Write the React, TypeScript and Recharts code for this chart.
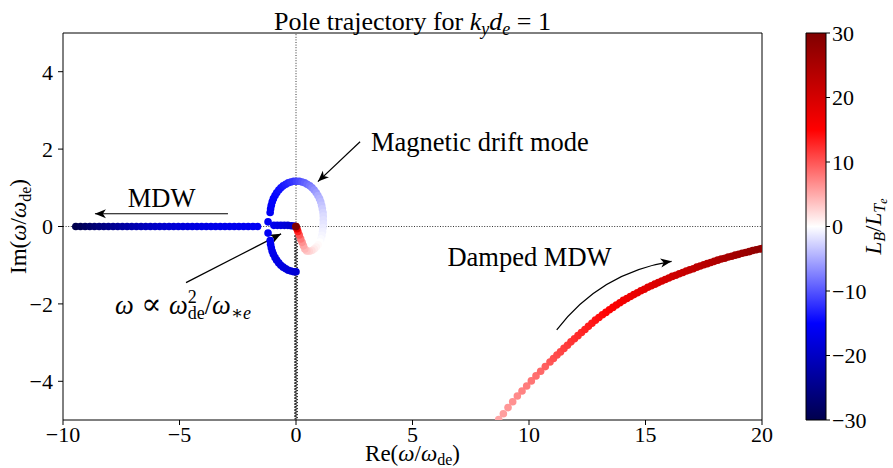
import React from "react";
import {
  ScatterChart,
  Scatter,
  XAxis,
  YAxis,
  ReferenceLine,
  ReferenceArea,
  ReferenceDot,
} from "recharts";

// each point: [Re(w/w_de), Im(w/w_de), L_B/L_Te]
type Pt = [number, number, number];

// MDW branch on the real axis (dense, dark navy -> blue)
const mdwBranch: Pt[] = [
  [-9.45, 0, -30], [-9.25, 0, -29.2], [-9.05, 0, -28.4], [-8.85, 0, -27.6], [-8.65, 0, -26.9],
  [-8.45, 0, -26.2], [-8.25, 0, -25.5], [-8.05, 0, -24.9], [-7.85, 0, -24.3], [-7.65, 0, -23.7],
  [-7.45, 0, -23.1], [-7.25, 0, -22.6], [-7.05, 0, -22.1], [-6.85, 0, -21.6], [-6.65, 0, -21.1],
  [-6.45, 0, -20.7], [-6.25, 0, -20.3], [-6.05, 0, -19.9], [-5.85, 0, -19.5], [-5.65, 0, -19.2],
  [-5.45, 0, -18.9], [-5.25, 0, -18.6], [-5.05, 0, -18.3], [-4.85, 0, -18.1], [-4.65, 0, -17.9],
  [-4.45, 0, -17.7], [-4.25, 0, -17.5], [-4.05, 0, -17.3], [-3.85, 0, -17.2], [-3.65, 0, -17.0],
  [-3.45, 0, -16.9], [-3.25, 0, -16.8], [-3.05, 0, -16.7], [-2.85, 0, -16.6], [-2.65, 0, -16.5],
  [-2.45, 0, -16.4], [-2.25, 0, -16.3], [-2.05, 0, -16.2], [-1.85, 0, -16.1], [-1.65, 0, -16.0],
];

// short branch w ~ w_de^2 / w_*e between -1 and 0
const smallBranch: Pt[] = [
  [-0.95, 0.03, -16.5], [-0.8, 0.03, -17], [-0.65, 0.03, -17.5], [-0.5, 0.03, -18],
  [-0.35, 0.03, -18.5], [-0.2, 0.02, -19], [-0.08, 0.01, -19.5],
];

// points where the branches split
const splitPoints: Pt[] = [
  [-1.2, 0.12, -15.8], [-1.2, -0.17, -15.8],
];

// lower arc (conjugate side)
const lowerArc: Pt[] = [
  [-1.11, -0.36, -15.8], [-1.09, -0.46, -16.0], [-1.06, -0.55, -16.2], [-1.02, -0.64, -16.4],
  [-0.97, -0.72, -16.6], [-0.9, -0.8, -16.8], [-0.83, -0.87, -17.0], [-0.74, -0.94, -17.2],
  [-0.65, -1.0, -17.4], [-0.55, -1.05, -17.6], [-0.44, -1.09, -17.8], [-0.33, -1.13, -18.0],
  [-0.22, -1.15, -18.2], [-0.1, -1.17, -18.4], [0.0, -1.17, -18.6],
];

// magnetic drift mode loop, ending at the origin
const driftMode: Pt[] = [
  [-1.11, 0.36, -15.9], [-1.09, 0.46, -15.7], [-1.06, 0.55, -15.5], [-1.02, 0.64, -15.3],
  [-0.97, 0.72, -15.1], [-0.9, 0.8, -14.9], [-0.83, 0.87, -14.6], [-0.74, 0.94, -14.3],
  [-0.65, 1.0, -14.0], [-0.55, 1.05, -13.6], [-0.44, 1.09, -13.2], [-0.33, 1.13, -12.8],
  [-0.22, 1.15, -12.3], [-0.1, 1.17, -11.8], [0.02, 1.17, -11.2], [0.14, 1.17, -10.6],
  [0.26, 1.15, -10.0], [0.37, 1.13, -9.4], [0.48, 1.09, -8.7], [0.59, 1.05, -8.0],
  [0.69, 1.0, -7.2], [0.78, 0.94, -6.5], [0.87, 0.87, -5.8], [0.94, 0.8, -5.0],
  [1.01, 0.72, -4.5], [1.06, 0.64, -4.0], [1.1, 0.55, -3.5], [1.13, 0.46, -3.0],
  [1.16, 0.36, -2.5], [1.17, 0.27, -2.1], [1.17, 0.17, -1.8], [1.17, 0.07, -1.5],
  [1.16, -0.03, -1.2], [1.14, -0.13, -0.9], [1.11, -0.23, -0.6], [1.07, -0.32, -0.3],
  [1.02, -0.4, 0.0], [0.95, -0.47, 0.3], [0.87, -0.53, 0.7], [0.78, -0.58, 1.2],
  [0.68, -0.62, 1.8], [0.57, -0.64, 2.5], [0.46, -0.63, 3.3], [0.38, -0.58, 4.2],
  [0.32, -0.5, 5.2], [0.26, -0.41, 6.5], [0.2, -0.32, 8.0], [0.14, -0.22, 10.0],
  [0.08, -0.13, 13.0], [0.04, -0.06, 18.0], [0.0, 0.0, 25.0], [0.0, 0.0, 30.0],
];

// damped MDW branch
const dampedMdw: Pt[] = [
  [8.7, -4.99, 5.3], [8.9, -4.84, 5.7], [9.1, -4.68, 6.1], [9.3, -4.53, 6.5], [9.5, -4.38, 6.9],
  [9.7, -4.25, 7.3], [9.9, -4.12, 7.7], [10.1, -3.99, 8.1], [10.3, -3.86, 8.5], [10.5, -3.74, 8.9],
  [10.7, -3.62, 9.4], [10.9, -3.5, 9.9], [11.05, -3.41, 10.3], [11.2, -3.32, 10.6], [11.35, -3.24, 10.9],
  [11.5, -3.15, 11.2], [11.65, -3.07, 11.5], [11.8, -2.98, 11.8], [11.95, -2.9, 12.1], [12.1, -2.82, 12.4],
  [12.25, -2.74, 12.7], [12.4, -2.66, 13.0], [12.55, -2.58, 13.3], [12.7, -2.5, 13.6], [12.85, -2.42, 13.9],
  [13.0, -2.35, 14.2], [13.15, -2.28, 14.5], [13.3, -2.22, 14.8], [13.45, -2.15, 15.1], [13.6, -2.09, 15.4],
  [13.75, -2.03, 15.7], [13.9, -1.97, 16.0], [14.05, -1.91, 16.3], [14.2, -1.86, 16.6], [14.35, -1.81, 16.9],
  [14.5, -1.76, 17.2], [14.65, -1.71, 17.5], [14.8, -1.66, 17.8], [14.95, -1.62, 18.1], [15.1, -1.57, 18.4],
  [15.25, -1.53, 18.7], [15.4, -1.49, 19.0], [15.55, -1.45, 19.3], [15.7, -1.41, 19.6], [15.85, -1.37, 19.9],
  [16.0, -1.33, 20.2], [16.15, -1.29, 20.5], [16.3, -1.26, 20.8], [16.45, -1.22, 21.1], [16.6, -1.19, 21.4],
  [16.75, -1.15, 21.7], [16.9, -1.12, 22.0], [17.05, -1.09, 22.3], [17.2, -1.05, 22.6], [17.35, -1.02, 22.9],
  [17.5, -0.99, 23.2], [17.65, -0.96, 23.5], [17.8, -0.93, 23.8], [17.95, -0.9, 24.1], [18.1, -0.87, 24.4],
  [18.25, -0.84, 24.7], [18.4, -0.82, 25.0], [18.55, -0.79, 25.3], [18.7, -0.77, 25.6], [18.85, -0.74, 25.9],
  [19.0, -0.72, 26.2], [19.15, -0.69, 26.5], [19.3, -0.67, 26.8], [19.45, -0.65, 27.1], [19.6, -0.62, 27.4],
  [19.75, -0.6, 27.7], [19.9, -0.58, 28.0], [20.0, -0.57, 28.2],
];

const xTicks = [-10, -5, 0, 5, 10, 15, 20];
const yTicks = [-4, -2, 0, 2, 4];
const cbarTicks = [-30, -20, -10, 0, 10, 20, 30];

const FONT = "'Liberation Serif', 'DejaVu Serif', serif";

// matplotlib "seismic" colormap over [-30, 30]
const seismicStops = [
  [0, 0, 0.3],
  [0, 0, 1],
  [1, 1, 1],
  [1, 0, 0],
  [0.5, 0, 0],
];
function seismic(v: number) {
  const t = Math.min(1, Math.max(0, (v + 30) / 60)) * 4;
  const i = Math.min(3, Math.floor(t));
  const f = t - i;
  const c = seismicStops[i].map((a, k) => a + (seismicStops[i + 1][k] - a) * f);
  return `rgb(${c.map((u) => Math.round(u * 255)).join(",")})`;
}

const rows = (pts: Pt[]) => pts.map(([x, y, c]) => ({ x, y, c }));
const fmt = (v: number) => (v < 0 ? `\u2212${-v}` : `${v}`);

const PoleDot = (p: any) => (
  <circle cx={p.cx} cy={p.cy} r={3.8} fill={seismic(p.payload.c)} />
);

// arrow drawn between the two segment ends; curve > 0 bends it
const arrow = (curve = 0) => (p: any) => {
  const { x1, y1, x2, y2 } = p;
  const dx = x2 - x1;
  const dy = y2 - y1;
  let d = `M${x1},${y1} L${x2},${y2}`;
  let ux = dx;
  let uy = dy;
  if (curve) {
    const cx = (x1 + x2) / 2 + curve * dy;
    const cy = (y1 + y2) / 2 - curve * dx;
    d = `M${x1},${y1} Q${cx},${cy} ${x2},${y2}`;
    ux = x2 - cx;
    uy = y2 - cy;
  }
  const l = Math.hypot(ux, uy);
  ux /= l;
  uy /= l;
  const L = 11;
  const W = 4.5;
  const bx = x2 - ux * L;
  const by = y2 - uy * L;
  const nx = x2 - ux * (L - 3);
  const ny = y2 - uy * (L - 3);
  const head = `M${x2},${y2} L${bx - uy * W},${by + ux * W} L${nx},${ny} L${bx + uy * W},${by - ux * W} Z`;
  return (
    <g>
      <path d={d} stroke="#000" strokeWidth={1.2} fill="none" />
      <path d={head} fill="#000" stroke="none" />
    </g>
  );
};

const zigzag = (p: any) => {
  const { x1, y1, y2 } = p;
  const top = Math.min(y1, y2);
  const bottom = Math.max(y1, y2);
  let d = `M${x1},${top}`;
  let s = 1;
  for (let y = top + 1.5; y <= bottom; y += 1.5) {
    d += ` L${x1 + s * 1.8},${y}`;
    s = -s;
  }
  return <path d={d} stroke="#000" strokeWidth={0.8} fill="none" />;
};

const textAt =
  (content: React.ReactNode, anchor: "start" | "middle" | "end" = "start", size = 26.5, rotate = 0) =>
  (p: any) => (
    <text
      x={p.cx}
      y={p.cy}
      textAnchor={anchor}
      fontFamily={FONT}
      fontSize={size}
      fill="#000"
      transform={rotate ? `rotate(${rotate} ${p.cx} ${p.cy})` : undefined}
    >
      {content}
    </text>
  );

const I = ({ children }: { children: React.ReactNode }) => <tspan fontStyle="italic">{children}</tspan>;

const Nothing = () => <g />;

export default function App() {
  const tick = { fontSize: 22, fill: "#000", fontFamily: FONT };
  return (
    <div style={{ position: "absolute", left: 0, top: 0, width: 893, height: 468, background: "#fff" }}>
      <div style={{ position: "absolute", left: 0, top: 0 }}>
        <ScatterChart width={893} height={468} margin={{ top: 33, right: 131, bottom: 8, left: 3 }}>
          <XAxis
            dataKey="x"
            type="number"
            domain={[-10, 20]}
            ticks={xTicks}
            interval={0}
            allowDataOverflow
            height={40}
            axisLine={false}
            tickLine={{ stroke: "#000" }}
            tickSize={5}
            tickMargin={1}
            tick={tick}
            tickFormatter={fmt}
          />
          <YAxis
            dataKey="y"
            type="number"
            domain={[-5, 5]}
            ticks={yTicks}
            interval={0}
            allowDataOverflow
            width={60}
            axisLine={false}
            tickLine={{ stroke: "#000" }}
            tickSize={5}
            tickMargin={5}
            tick={tick}
            tickFormatter={fmt}
          />
          <ReferenceLine x={0} stroke="#000" strokeWidth={0.8} strokeDasharray="1 1.6" />
          <ReferenceLine y={0} stroke="#000" strokeWidth={0.8} strokeDasharray="1 1.6" />

          <Scatter data={rows(mdwBranch)} shape={PoleDot} isAnimationActive={false} />
          <Scatter data={rows(smallBranch)} shape={PoleDot} isAnimationActive={false} />
          <Scatter data={rows(lowerArc)} shape={PoleDot} isAnimationActive={false} />
          <Scatter data={rows(splitPoints)} shape={PoleDot} isAnimationActive={false} />
          <Scatter data={rows(driftMode)} shape={PoleDot} isAnimationActive={false} />
          <Scatter data={rows(dampedMdw)} shape={PoleDot} isAnimationActive={false} />

          <ReferenceLine segment={[{ x: 0, y: -0.17 }, { x: 0, y: -5 }]} shape={zigzag} />

          {/* annotations */}
          <ReferenceLine segment={[{ x: -2.92, y: 0.33 }, { x: -8.63, y: 0.33 }]} shape={arrow()} />
          <ReferenceLine segment={[{ x: 2.75, y: 2.19 }, { x: 0.94, y: 1.16 }]} shape={arrow()} />
          <ReferenceLine segment={[{ x: -4.72, y: -1.45 }, { x: -0.64, y: -0.19 }]} shape={arrow()} />
          <ReferenceLine segment={[{ x: 11.19, y: -2.67 }, { x: 16.12, y: -0.9 }]} shape={arrow(0.2)} />

          <ReferenceDot x={-5.77} y={0.51} r={0} ifOverflow="visible" shape={textAt("MDW", "middle")} />
          <ReferenceDot x={3.22} y={1.96} r={0} ifOverflow="visible" shape={textAt("Magnetic drift mode")} />
          <ReferenceDot x={6.5} y={-1.02} r={0} ifOverflow="visible" shape={textAt("Damped MDW")} />
          <ReferenceDot
            x={-7.77}
            y={-2.26}
            r={0}
            ifOverflow="visible"
            shape={textAt(
              <>
                <I>ω</I>
                <tspan fontSize={30}>{" \u221D "}</tspan>
                <I>ω</I>
                <tspan fontSize={18} dy={-11}>2</tspan>
                <tspan fontSize={18} dx={-9} dy={16}>de</tspan>
                <tspan dy={-5}>/</tspan>
                <I>ω</I>
                <tspan fontSize={18} dy={5}>
                  {"\u2217"}
                  <tspan fontStyle="italic">e</tspan>
                </tspan>
              </>
            )}
          />

          {/* title and axis labels */}
          <ReferenceDot
            x={5}
            y={5.08}
            r={0}
            ifOverflow="visible"
            shape={textAt(
              <>
                {"Pole trajectory for "}
                <I>k</I>
                <tspan fontSize={18} dy={5} fontStyle="italic">y</tspan>
                <tspan dy={-5} fontStyle="italic">d</tspan>
                <tspan fontSize={18} dy={5} fontStyle="italic">e</tspan>
                <tspan dy={-5}>{" = 1"}</tspan>
              </>,
              "middle",
              26
            )}
          />
          <ReferenceDot
            x={5}
            y={-6.07}
            r={0}
            ifOverflow="visible"
            shape={textAt(
              <>
                {"Re("}
                <I>ω</I>
                {"/"}
                <I>ω</I>
                <tspan fontSize={16} dy={4}>de</tspan>
                <tspan dy={-4}>)</tspan>
              </>,
              "middle",
              23
            )}
          />
          <ReferenceDot
            x={-11.59}
            y={0}
            r={0}
            ifOverflow="visible"
            shape={textAt(
              <>
                {"Im("}
                <I>ω</I>
                {"/"}
                <I>ω</I>
                <tspan fontSize={16} dy={5}>de</tspan>
                <tspan dy={-5}>)</tspan>
              </>,
              "middle",
              23,
              -90
            )}
          />

          <ReferenceArea x1={-10} x2={20} y1={-5} y2={5} fill="none" stroke="#000" strokeWidth={1} />
        </ScatterChart>
      </div>

      {/* colorbar */}
      <div style={{ position: "absolute", left: 0, top: 0 }}>
        <ScatterChart width={893} height={468} margin={{ top: 33, right: 7, bottom: 48, left: 806 }}>
          <defs>
            <linearGradient id="seismicBar" x1="0" y1="1" x2="0" y2="0">
              {[0, 0.25, 0.5, 0.75, 1].map((o) => (
                <stop key={o} offset={o} stopColor={seismic(-30 + 60 * o)} />
              ))}
            </linearGradient>
          </defs>
          <XAxis dataKey="x" type="number" domain={[0, 1]} hide />
          <YAxis
            dataKey="y"
            type="number"
            orientation="right"
            domain={[-30, 30]}
            ticks={cbarTicks}
            interval={0}
            width={60}
            axisLine={false}
            tickLine={{ stroke: "#000" }}
            tickSize={4}
            tickMargin={2}
            tick={tick}
            tickFormatter={fmt}
          />
          <Scatter
            data={cbarTicks.map((v) => ({ x: 0.5, y: v }))}
            shape={Nothing}
            isAnimationActive={false}
          />
          <ReferenceArea
            x1={0}
            x2={1}
            y1={-30}
            y2={30}
            fill="url(#seismicBar)"
            fillOpacity={1}
            stroke="#000"
            strokeWidth={1}
          />
          <ReferenceDot
            x={3.75}
            y={0}
            r={0}
            ifOverflow="visible"
            shape={textAt(
              <>
                <I>L</I>
                <tspan fontSize={16} dy={4} fontStyle="italic">B</tspan>
                <tspan dy={-4}>/</tspan>
                <I>L</I>
                <tspan fontSize={16} dy={4} fontStyle="italic">T</tspan>
                <tspan fontSize={12} dy={2} fontStyle="italic">e</tspan>
              </>,
              "middle",
              23,
              -90
            )}
          />
        </ScatterChart>
      </div>
    </div>
  );
}
